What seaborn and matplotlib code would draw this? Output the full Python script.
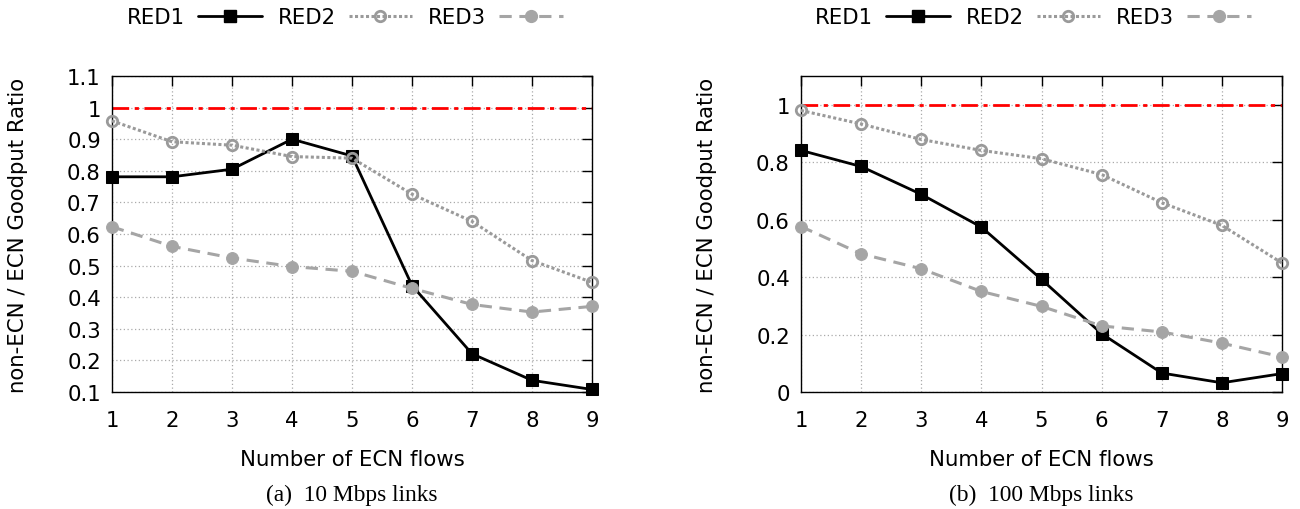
import matplotlib
matplotlib.use("Agg")
import matplotlib.pyplot as plt
import seaborn as sns
import pandas as pd
from matplotlib.lines import Line2D

sns.set_theme(style="white")
plt.rcParams['font.family'] = ['DejaVu Sans']
plt.rcParams['text.color'] = 'black'
plt.rcParams['axes.labelcolor'] = 'black'

flows = [1, 2, 3, 4, 5, 6, 7, 8, 9]
series_names = ["RED1", "RED2", "RED3"]

red1_10 = [0.781, 0.781, 0.805, 0.900, 0.847, 0.437, 0.221, 0.137, 0.108]
red2_10 = [0.958, 0.892, 0.881, 0.845, 0.840, 0.726, 0.640, 0.516, 0.447]
red3_10 = [0.623, 0.561, 0.524, 0.497, 0.482, 0.428, 0.377, 0.353, 0.371]

red1_100 = [0.841, 0.785, 0.688, 0.574, 0.392, 0.203, 0.066, 0.032, 0.064]
red2_100 = [0.980, 0.933, 0.879, 0.841, 0.812, 0.757, 0.659, 0.580, 0.449]
red3_100 = [0.576, 0.481, 0.429, 0.350, 0.298, 0.230, 0.209, 0.170, 0.122]

reference_level = 1.0

yticks_10 = [0.1, 0.2, 0.3, 0.4, 0.5, 0.6, 0.7, 0.8, 0.9, 1.0, 1.1]
yticklabels_10 = ["0.1", "0.2", "0.3", "0.4", "0.5", "0.6", "0.7", "0.8", "0.9", "1", "1.1"]
yticks_100 = [0, 0.2, 0.4, 0.6, 0.8, 1.0]
yticklabels_100 = ["0", "0.2", "0.4", "0.6", "0.8", "1"]

captions = ["(a)  10 Mbps links", "(b)  100 Mbps links"]
xlabel = "Number of ECN flows"
ylabel = "non-ECN / ECN Goodput Ratio"

FS = 15.3

styles = {
    "RED1": dict(color="black", linestyle="-", marker="s", markersize=8,
                 markerfacecolor="black", markeredgecolor="black", linewidth=2),
    "RED2": dict(color="#9a9a9a", linestyle=(0, (1, 0.8)), marker="o", markersize=7.5,
                 markerfacecolor="none", markeredgecolor="#9a9a9a", markeredgewidth=2, linewidth=2.2),
    "RED3": dict(color="#a5a5a5", linestyle=(0, (4, 2.5)), marker="o", markersize=8.5,
                 markerfacecolor="#a5a5a5", markeredgecolor="#a5a5a5", linewidth=2.2),
}

fig = plt.figure(figsize=(13, 5.1), dpi=100)
ax1 = fig.add_axes([112/1300, 1-393/510, 480/1300, 316/510])
ax2 = fig.add_axes([801/1300, 1-393/510, 481/1300, 316/510])

panels = [
    (ax1, [red1_10, red2_10, red3_10], (0.1, 1.1), yticks_10, yticklabels_10, captions[0]),
    (ax2, [red1_100, red2_100, red3_100], (0.0, 1.1), yticks_100, yticklabels_100, captions[1]),
]

for ax, vals, ylim, yt, ytl, cap in panels:
    ax.axhline(reference_level, color="red", linestyle=(0, (6, 2, 1.5, 2)), linewidth=2, zorder=2)
    for name, v in zip(series_names, vals):
        df = pd.DataFrame({"x": flows, "y": v})
        st = dict(styles[name])
        sns.lineplot(data=df, x="x", y="y", ax=ax, legend=False, zorder=3,
                     clip_on=False, **st)
    ax.set_xlim(1, 9)
    ax.set_ylim(*ylim)
    ax.set_xticks(flows)
    ax.set_xticklabels([str(f) for f in flows])
    ax.set_yticks(yt)
    ax.set_yticklabels(ytl)
    ax.grid(True, color="#aaaaaa", linestyle=(0, (1, 2)), linewidth=0.9)
    ax.tick_params(direction="in", length=7, width=1, top=True, right=True,
                   labelsize=FS, colors="black", pad=8)
    ax.tick_params(axis="x", pad=13)
    for s in ax.spines.values():
        s.set_color("black")
        s.set_linewidth(1)
    ax.set_xlabel(xlabel, fontsize=FS, labelpad=14, color="black")
    ax.set_ylabel(ylabel, fontsize=FS, labelpad=28, color="black")
    ax.text(0.5, -0.325, cap, transform=ax.transAxes, ha="center", va="center",
            fontsize=16.8, family="Liberation Serif", color="black")

handles = [Line2D([], [], **styles[n]) for n in series_names]
for cx in [345/1300, 1033/1300]:
    leg = fig.legend(handles, series_names, loc="center", bbox_to_anchor=(cx, 1-18/510),
                     ncol=3, frameon=False, markerfirst=False, fontsize=FS,
                     handlelength=3.0, columnspacing=0.75, handletextpad=0.6)
    for t in leg.get_texts():
        t.set_color("black")

fig.savefig("out.png", dpi=100)
